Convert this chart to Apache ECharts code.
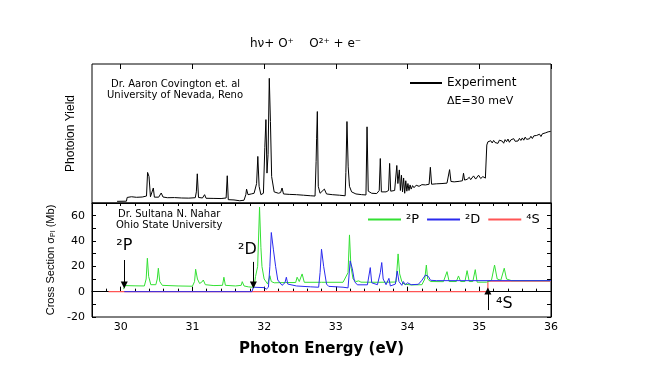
<!DOCTYPE html>
<html><head><meta charset="utf-8">
<script src="https://cdn.jsdelivr.net/npm/echarts@6/dist/echarts.min.js"></script>
<style>html,body{margin:0;padding:0;background:#fff}#c{width:654px;height:382px}</style>
</head><body><div id="c"></div>
<script>
const xTicks = [30, 31, 32, 33, 34, 35, 36];
const experiment = [
[29.95,1.2],[30.08,1.3],[30.09,4.0],[30.15,4.5],[30.22,4.1],[30.30,4.3],[30.36,5],[30.375,22],[30.395,19],[30.415,4.5],[30.44,4.8],[30.455,10.8],[30.47,4.2],[30.53,4.2],[30.565,7.2],[30.59,4.3],[30.65,3.8],[30.75,3.9],[30.85,3.6],[30.95,3.5],[31.04,3.8],[31.055,8],[31.068,21],[31.085,4],[31.14,3.6],[31.17,6],[31.19,3.4],[31.30,3.3],[31.40,3.2],[31.47,3.6],[31.486,19.6],[31.50,2.4],[31.58,2.2],[31.66,1.6],[31.72,2],[31.745,6],[31.755,10],[31.775,6],[31.82,6.5],[31.86,7],[31.895,14],[31.912,33.5],[31.93,12],[31.955,6],[31.99,7],[32.01,40],[32.025,60],[32.04,21.5],[32.055,35],[32.072,89.7],[32.088,58.6],[32.105,19],[32.14,8],[32.2,7],[32.23,7.5],[32.25,10.8],[32.27,6.5],[32.35,6.2],[32.45,6],[32.55,5.6],[32.65,5.2],[32.71,5],[32.725,30],[32.732,46.6],[32.742,65.8],[32.755,12],[32.78,7],[32.8,6],[32.84,10],[32.87,6.5],[32.95,6],[33.05,5.6],[33.13,5.2],[33.14,22],[33.155,58.6],[33.172,26],[33.19,12],[33.22,8],[33.28,6.5],[33.36,6],[33.42,5.8],[33.435,54.8],[33.452,8.5],[33.5,7],[33.57,6.8],[33.605,9],[33.62,32],[33.635,8],[33.7,8],[33.735,9],[33.75,28.5],[33.765,8.5],[33.82,9],[33.85,27],[33.865,14],[33.885,23.8],[33.9,9],[33.915,20],[33.93,8],[33.945,18],[33.96,7],[33.975,16],[33.99,8.5],[34.005,14],[34.02,9],[34.035,13],[34.05,10],[34.07,12.5],[34.09,11],[34.12,12.8],[34.16,12],[34.2,13.2],[34.25,13],[34.3,13.5],[34.318,25.7],[34.335,13.5],[34.4,13.8],[34.48,14],[34.55,14.3],[34.572,15],[34.586,24],[34.605,15.5],[34.65,15.2],[34.72,15.6],[34.765,16],[34.78,21.4],[34.795,16.5],[34.83,17],[34.86,18.5],[34.88,16.8],[34.92,19.5],[34.95,17.2],[34.99,20],[35.02,17.6],[35.05,19],[35.085,17.9],[35.105,41.7],
[35.12,44],[35.14,42.6],[35.16,44.8],[35.18,43.2],[35.2,45],[35.22,43.5],[35.24,44.6],[35.26,42.9],[35.28,45.2],[35.3,43.8],[35.32,44.5],[35.34,43],[35.36,45.6],[35.38,44.1],[35.40,46],[35.42,43.7],[35.44,45.4],[35.46,44.2],[35.48,46.3],[35.50,44.4],[35.52,45.8],[35.54,44.6],[35.56,46.5],[35.58,45],[35.60,46.8],[35.62,45.2],[35.64,47.4],[35.66,45.8],[35.68,47],[35.70,46.2],[35.72,48],[35.74,46.4],[35.76,48.3],[35.78,47],[35.80,48.6],[35.82,47.2],[35.84,49.5],[35.86,47.8],[35.88,49.8],[35.90,48.4],[35.92,50.4],[35.94,49],[35.96,51.2],[35.98,49.8],[35.995,51.5]
];
const crossP = [
[30.04,2],[30.06,4.8],[30.2,4.6],[30.33,4.5],[30.355,10],[30.372,26.4],[30.39,12],[30.42,5.5],[30.49,5.5],[30.51,10],[30.525,18.5],[30.545,8],[30.58,5],[30.8,4.5],[31.0,4.3],[31.03,8],[31.045,17.7],[31.07,10],[31.1,6.5],[31.13,7.5],[31.152,9.2],[31.18,5.5],[31.3,4.8],[31.42,5],[31.439,11.4],[31.46,5],[31.6,4.5],[31.68,5],[31.695,7.9],[31.72,4.5],[31.78,3.8],[31.83,3.5],[31.86,4],[31.88,11.9],[31.91,20],[31.936,66.7],[31.955,35],[31.97,19.8],[32.0,10],[32.05,6],[32.08,12.6],[32.1,8],[32.14,7],[32.3,7.2],[32.44,7.2],[32.46,11.4],[32.49,8],[32.53,14],[32.56,7.4],[32.8,7.4],[33.1,7.4],[33.17,15],[33.19,44.8],[33.21,20],[33.24,10],[33.28,8],[33.32,8.5],[33.35,7.5],[33.6,7.4],[33.84,7.6],[33.868,29.8],[33.89,14],[33.92,8],[33.95,6],[34.05,5.3],[34.2,5.5],[34.24,10],[34.262,21],[34.28,10],[34.32,8],[34.5,7.9],[34.55,15.8],[34.58,8],[34.68,8],[34.71,12.4],[34.74,8],[34.8,8],[34.83,16.6],[34.86,8],[34.91,8],[34.944,17.4],[34.97,7.5],[35.1,7.5],[35.17,9],[35.213,21],[35.25,10],[35.3,9],[35.348,18.5],[35.38,10],[35.45,8.7],[36.0,8.7]
];
const crossD = [
[30.05,0],[31.83,0],[31.85,3.5],[32.0,3.2],[32.03,2],[32.06,3.5],[32.08,20],[32.10,46.7],[32.13,33],[32.16,20],[32.19,9.2],[32.25,5],[32.29,7],[32.31,11.4],[32.33,6],[32.45,4.5],[32.65,3.8],[32.76,3.5],[32.78,15],[32.80,33.5],[32.83,20],[32.87,6],[32.9,4.2],[33.1,3.5],[33.17,3],[33.2,24.3],[33.23,18],[33.26,8],[33.3,5.4],[33.44,5.4],[33.48,19],[33.5,7],[33.58,5.5],[33.62,15],[33.64,23],[33.66,10],[33.7,5.5],[33.74,10.5],[33.76,4.5],[33.83,6],[33.856,16.3],[33.88,8],[33.9,9.2],[33.92,5],[33.94,8],[33.97,5.5],[34.0,7],[34.05,5.5],[34.15,5.8],[34.2,9],[34.25,13.2],[34.29,12],[34.32,9],[34.4,8.7],[36.0,8.7]
];
const crossS = [[29.83,0],[35.12,0],[35.12,8.3],[36.0,8.3]];

const F = 'DejaVu Sans';
const cP = '#33e033', cD = '#2a2aee', cS = '#ff5555';
const chart = echarts.init(document.getElementById('c'));
const tickAxis = (grid, pos, len) => ({
  gridIndex: grid, type: 'value', min: 29.6, max: 36, interval: 0.2, position: pos,
  axisLine: {show: true, lineStyle: {color: '#000', width: 1}},
  axisTick: {show: true, inside: true, length: len, lineStyle: {color: '#000'}},
  axisLabel: {show: false}, splitLine: {show: false}
});
const majorAxis = (grid, pos, showLabel) => ({
  gridIndex: grid, type: 'value', min: 29.6, max: 36, position: pos,
  axisLine: {show: false},
  axisTick: {show: true, inside: true, length: 5, customValues: xTicks, lineStyle: {color: '#000'}},
  axisLabel: {show: showLabel, customValues: xTicks, margin: 5, color: '#000', fontFamily: F, fontSize: 11},
  splitLine: {show: false},
  name: showLabel ? 'Photon Energy (eV)' : '', nameLocation: 'middle', nameGap: 25,
  nameTextStyle: {fontFamily: F, fontWeight: 'bold', fontSize: 15, color: '#000'}
});
const arrowLine = (x, y1, y2, text, lab) => [
  {coord: [x, y1], label: Object.assign({show: !!text, formatter: text, position: 'start', color: '#000', fontFamily: F, fontSize: 16}, lab || {})},
  {coord: [x, y2]}
];
chart.setOption({
  animation: false,
  grid: [
    {left: 92, top: 64, width: 459, height: 139, show: true, borderColor: '#000', borderWidth: 1, backgroundColor: 'transparent'},
    {left: 92, top: 203, width: 459, height: 114, show: true, borderColor: '#000', borderWidth: 1, backgroundColor: 'transparent'}
  ],
  xAxis: [tickAxis(0, 'top', 3), majorAxis(0, 'top', false), tickAxis(1, 'bottom', 3), majorAxis(1, 'bottom', true)],
  yAxis: [
    {gridIndex: 0, type: 'value', min: 0, max: 100, axisLine: {show: false}, axisTick: {show: false}, axisLabel: {show: false}, splitLine: {show: false},
     name: 'Photoion Yield', nameLocation: 'middle', nameGap: 15, nameTextStyle: {fontFamily: 'Liberation Sans', fontSize: 12, color: '#000'}},
    {gridIndex: 1, type: 'value', min: -20, max: 70, interval: 10, position: 'left',
     axisLine: {show: true, lineStyle: {color: '#000'}}, axisTick: {show: true, inside: true, length: 4, lineStyle: {color: '#000'}},
     axisLabel: {color: '#000', fontFamily: F, fontSize: 11, margin: 7, formatter: v => (v % 20 === 0 && v < 70) ? String(v) : ''},
     splitLine: {show: false},
     name: 'Cross Section σ{s|PI} (Mb)', nameLocation: 'middle', nameGap: 24,
     nameTextStyle: {fontFamily: 'Liberation Sans', fontSize: 11, color: '#000', rich: {s: {fontFamily: 'Liberation Sans', fontSize: 7, verticalAlign: 'bottom'}}}},
    {gridIndex: 1, type: 'value', min: -20, max: 70, interval: 10, position: 'right',
     axisLine: {show: true, lineStyle: {color: '#000'}}, axisTick: {show: true, inside: true, length: 4, lineStyle: {color: '#000'}},
     axisLabel: {show: false}, splitLine: {show: false}}
  ],
  legend: [
    {data: [{name: 'Experiment', itemStyle: {color: '#000'}}], left: 410, top: 77, padding: 0, icon: 'rect', itemWidth: 32, itemHeight: 2, itemGap: 5,
     textStyle: {fontFamily: F, fontSize: 12, color: '#000'}},
    {data: [{name: '²P', itemStyle: {color: cP}}, {name: '²D', itemStyle: {color: cD}}, {name: '⁴S', itemStyle: {color: cS}}],
     left: 368, top: 213, padding: 0, icon: 'rect', itemWidth: 33, itemHeight: 2, itemGap: 8,
     textStyle: {fontFamily: F, fontSize: 13, color: '#000'}}
  ],
  graphic: [
    {type: 'text', left: 250, top: 38, style: {text: 'hν+ O⁺    O²⁺ + e⁻', font: '12px "DejaVu Sans"', fill: '#000'}},
    {type: 'text', left: 111, top: 79, style: {text: 'Dr. Aaron Covington et. al', font: '10px "DejaVu Sans"', fill: '#000'}},
    {type: 'text', left: 107, top: 90, style: {text: 'University of Nevada, Reno', font: '10px "DejaVu Sans"', fill: '#000'}},
    {type: 'text', left: 447, top: 96, style: {text: 'ΔE=30 meV', font: '11px "DejaVu Sans"', fill: '#000'}},
    {type: 'text', left: 118, top: 209, style: {text: 'Dr. Sultana N. Nahar', font: '10px "DejaVu Sans"', fill: '#000'}},
    {type: 'text', left: 116, top: 220, style: {text: 'Ohio State University', font: '10px "DejaVu Sans"', fill: '#000'}}
  ],
  series: [
    {name: 'Experiment', type: 'line', xAxisIndex: 0, yAxisIndex: 0, data: experiment, showSymbol: false, symbol: 'none',
     lineStyle: {color: '#000', width: 1}, itemStyle: {color: '#000'}},
    {name: '⁴S', type: 'line', xAxisIndex: 2, yAxisIndex: 1, data: crossS, showSymbol: false, symbol: 'none',
     lineStyle: {color: cS, width: 1.2}, itemStyle: {color: cS}},
    {name: '²P', type: 'line', xAxisIndex: 2, yAxisIndex: 1, data: crossP, showSymbol: false, symbol: 'none',
     lineStyle: {color: cP, width: 1}, itemStyle: {color: cP}},
    {name: '²D', type: 'line', xAxisIndex: 2, yAxisIndex: 1, data: crossD, showSymbol: false, symbol: 'none',
     lineStyle: {color: cD, width: 1}, itemStyle: {color: cD},
     markLine: {silent: true, symbol: ['none', 'triangle'], symbolSize: 7,
       lineStyle: {color: '#000', width: 1, type: 'solid'}, itemStyle: {color: '#000'},
       data: [
         arrowLine(30.05, 25, 5.3, '²P', {distance: 6}),
         arrowLine(31.85, 23.5, 5.3, '²D', {distance: 4, offset: [-6, 0]}),
         arrowLine(35.12, -14.5, 0.6, '', null)
       ]},
     markPoint: {silent: true, symbol: 'rect', symbolSize: 1, itemStyle: {color: 'transparent'},
       data: [{coord: [35.35, -10], label: {show: true, formatter: '⁴S', position: 'inside', color: '#000', fontFamily: F, fontSize: 16}}]}}
  ]
});
</script></body></html>
